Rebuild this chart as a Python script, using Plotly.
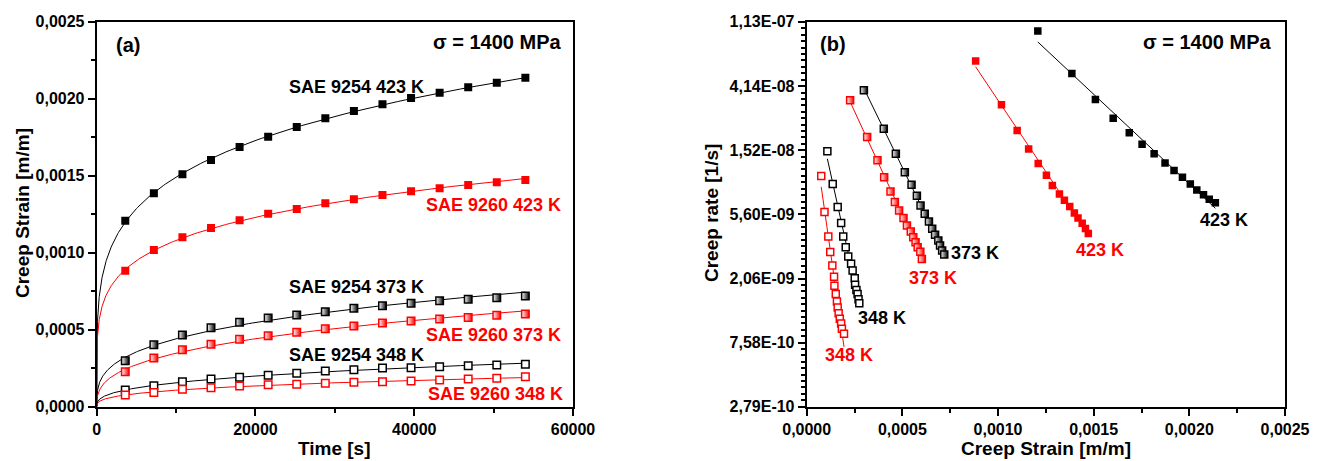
import numpy as np
import plotly.graph_objects as go

# ---------------- data ----------------
time_s = [3600, 7200, 10800, 14400, 18000, 21600, 25200, 28800,
          32400, 36000, 39600, 43200, 46800, 50400, 54000]

strain_9254_423 = [0.001208, 0.001386, 0.001509, 0.001602, 0.001686, 0.001753, 0.001816, 0.001873,
                   0.001920, 0.001964, 0.002005, 0.002039, 0.002074, 0.002104, 0.002136]
strain_9260_423 = [0.000883, 0.001018, 0.001100, 0.001160, 0.001210, 0.001253, 0.001284, 0.001321,
                   0.001347, 0.001375, 0.001399, 0.001418, 0.001440, 0.001457, 0.001472]
strain_9254_373 = [0.000299, 0.000403, 0.000466, 0.000513, 0.000548, 0.000576, 0.000595, 0.000617,
                   0.000639, 0.000656, 0.000671, 0.000688, 0.000697, 0.000708, 0.000719]
strain_9260_373 = [0.000227, 0.000316, 0.000370, 0.000405, 0.000438, 0.000461, 0.000483, 0.000506,
                   0.000524, 0.000544, 0.000557, 0.000569, 0.000580, 0.000594, 0.000602]
strain_9254_348 = [0.000108, 0.000136, 0.000162, 0.000180, 0.000191, 0.000204, 0.000217, 0.000232,
                   0.000240, 0.000251, 0.000253, 0.000260, 0.000266, 0.000271, 0.000275]
strain_9260_348 = [0.000076, 0.000093, 0.000113, 0.000123, 0.000134, 0.000143, 0.000145, 0.000152,
                   0.000158, 0.000162, 0.000167, 0.000173, 0.000180, 0.000184, 0.000195]

rate_9254_423 = [9.77e-8, 5.04e-8, 3.36e-8, 2.51e-8, 2.00e-8, 1.67e-8, 1.44e-8, 1.25e-8,
                 1.11e-8, 1.00e-8, 9.0e-9, 8.2e-9, 7.6e-9, 7.1e-9, 6.7e-9]
rate_9260_423 = [6.13e-8, 3.10e-8, 2.07e-8, 1.55e-8, 1.24e-8, 1.03e-8, 8.8e-9, 7.7e-9,
                 6.99e-9, 6.33e-9, 5.72e-9, 5.29e-9, 4.88e-9, 4.50e-9, 4.16e-9]
rate_9254_373 = [3.88e-8, 2.13e-8, 1.44e-8, 1.08e-8, 8.9e-9, 7.5e-9, 6.44e-9, 5.66e-9,
                 5.02e-9, 4.47e-9, 4.07e-9, 3.72e-9, 3.44e-9, 3.19e-9, 2.99e-9]
rate_9260_373 = [3.32e-8, 1.87e-8, 1.30e-8, 1.00e-8, 8.0e-9, 6.78e-9, 5.96e-9, 5.29e-9,
                 4.71e-9, 4.29e-9, 3.92e-9, 3.62e-9, 3.35e-9, 3.13e-9, 2.79e-9]
rate_9254_348 = [1.50e-8, 9.0e-9, 6.27e-9, 4.89e-9, 3.97e-9, 3.35e-9, 2.90e-9, 2.59e-9,
                 2.33e-9, 2.07e-9, 1.87e-9, 1.72e-9, 1.62e-9, 1.49e-9, 1.40e-9]
rate_9260_348 = [1.02e-8, 5.80e-9, 3.97e-9, 3.11e-9, 2.52e-9, 2.12e-9, 1.84e-9, 1.62e-9,
                 1.44e-9, 1.31e-9, 1.20e-9, 1.10e-9, 1.02e-9, 9.4e-10, 8.7e-10]

rate_tick_vals = [2.79e-10, 7.58e-10, 2.06e-9, 5.60e-9, 1.52e-8, 4.14e-8, 1.13e-7]
rate_tick_text = ["2,79E-10", "7,58E-10", "2,06E-09", "5,60E-09", "1,52E-08", "4,14E-08", "1,13E-07"]

# ---------------- layout helpers ----------------
W, H = 1322, 461
BLACK, RED = "#000000", "#ff0000"
FONT = "Liberation Sans, Arial, sans-serif"


def px(x):
    return x / W


def py(y):
    return 1 - y / H


series = [
    (strain_9254_423, rate_9254_423, BLACK, "filled"),
    (strain_9260_423, rate_9260_423, RED, "filled"),
    (strain_9254_373, rate_9254_373, BLACK, "half"),
    (strain_9260_373, rate_9260_373, RED, "half"),
    (strain_9254_348, rate_9254_348, BLACK, "open"),
    (strain_9260_348, rate_9260_348, RED, "open"),
]


def marker(color, kind, size):
    if kind == "filled":
        return dict(symbol="square", size=size, color=color,
                    line=dict(color=color, width=0))
    if kind == "open":
        return dict(symbol="square", size=size, color="white",
                    line=dict(color=color, width=1.5))
    return dict(symbol="square", size=size, color="white",
                gradient=dict(type="horizontal", color=color),
                line=dict(color=color, width=1.5))


fig = go.Figure()

t_arr = np.array(time_s, dtype=float)
t_fit = np.concatenate([[0.0], np.geomspace(1.0, t_arr[-1], 400)])

for strain, rate, color, kind in series:
    s = np.array(strain)
    r = np.array(rate)
    # panel (a): power-law fit curve
    n, loga = np.polyfit(np.log(t_arr), np.log(s), 1)
    fig.add_trace(go.Scatter(x=t_fit, y=np.exp(loga) * t_fit ** n, mode="lines",
                             line=dict(color=color, width=1), xaxis="x", yaxis="y",
                             showlegend=False, hoverinfo="skip"))
    fig.add_trace(go.Scatter(x=time_s, y=strain, mode="markers",
                             marker=marker(color, kind, 8 if kind == "filled" else 7.5),
                             xaxis="x", yaxis="y", showlegend=False))
    # panel (b): exponential fit line
    b, a = np.polyfit(s, np.log(r), 1)
    s_fit = np.linspace(s[0], s[-1], 50)
    fig.add_trace(go.Scatter(x=s_fit, y=np.exp(a + b * s_fit), mode="lines",
                             line=dict(color=color, width=1), xaxis="x2", yaxis="y2",
                             showlegend=False, hoverinfo="skip"))
    fig.add_trace(go.Scatter(x=strain, y=rate, mode="markers",
                             marker=marker(color, kind, 7.5 if kind == "filled" else 7),
                             xaxis="x2", yaxis="y2", showlegend=False))

tickfont = dict(family=FONT, size=16, color="black", weight="bold")
axis_common = dict(showline=True, linewidth=2, linecolor="black", mirror=True,
                   ticks="outside", ticklen=7, tickwidth=2, tickcolor="black",
                   showgrid=False, zeroline=False, tickfont=tickfont,
                   automargin=False)

ydom = [py(406.7), py(21.7)]

# minor ticks for log axis (uniform in ln space, 10 subdivisions per e-interval)
ln_lo, ln_hi = -22.0, -16.0
minor_vals = [float(np.exp(ln_lo + k * 0.1)) for k in range(61) if k % 10 != 0]

fig.update_layout(
    width=W, height=H,
    margin=dict(l=0, r=0, t=0, b=0),
    paper_bgcolor="white", plot_bgcolor="white",
    separators=",.",
    xaxis=dict(axis_common, domain=[px(96.7), px(573)], range=[0, 60000],
               tickvals=[0, 20000, 40000, 60000], tickformat="d",
               minor=dict(ticks="outside", ticklen=4, tickwidth=2, tickcolor="black",
                          dtick=10000, tick0=0),
               anchor="y"),
    yaxis=dict(axis_common, domain=ydom, range=[0, 0.0025], dtick=0.0005,
               tickformat=".4f",
               minor=dict(ticks="outside", ticklen=4, tickwidth=2, tickcolor="black",
                          dtick=0.00025, tick0=0),
               anchor="x"),
    xaxis2=dict(axis_common, domain=[px(806.7), px(1285)], range=[0, 0.0025],
                dtick=0.0005, tickformat=".4f",
                minor=dict(ticks="outside", ticklen=4, tickwidth=2, tickcolor="black",
                           dtick=0.00025, tick0=0),
                anchor="y2"),
    yaxis2=dict(axis_common, domain=ydom, type="log",
                range=[np.log10(rate_tick_vals[0]), np.log10(rate_tick_vals[-1])],
                tickmode="array", tickvals=rate_tick_vals, ticktext=rate_tick_text,
                minor=dict(ticks="outside", ticklen=4, tickwidth=1.5, tickcolor="black",
                           tickmode="array", tickvals=minor_vals),
                anchor="x2"),
)


def label(text, x, y, size=18, color=BLACK, angle=0):
    fig.add_annotation(text=text, x=px(x), y=py(y), xref="paper", yref="paper",
                       showarrow=False, xanchor="center", yanchor="middle",
                       textangle=angle,
                       font=dict(family=FONT, size=size, color=color, weight="bold"))


# axis titles
label("Time [s]", 335, 448, size=19)
label("Creep Strain [m/m]", 22, 213, size=19, angle=-90)
label("Creep Strain [m/m]", 1046, 448, size=19)
label("Creep rate [1/s]", 711, 213, size=19, angle=-90)

# panel (a) texts
label("(a)", 128, 45, size=20)
label("σ = 1400 MPa", 497, 42, size=20)
label("SAE 9254 423 K", 357, 87)
label("SAE 9260 423 K", 493, 205, color=RED)
label("SAE 9254 373 K", 357, 287)
label("SAE 9260 373 K", 493, 335, color=RED)
label("SAE 9254 348 K", 357, 355)
label("SAE 9260 348 K", 495, 394, color=RED)

# panel (b) texts
label("(b)", 833, 44, size=20)
label("σ = 1400 MPa", 1207, 42, size=20)
label("423 K", 1224, 220)
label("423 K", 1100, 250, color=RED)
label("373 K", 975, 253)
label("373 K", 933, 278, color=RED)
label("348 K", 882, 318)
label("348 K", 849, 355, color=RED)

fig.write_html("out.html",
               config={"displayModeBar": False},
               post_script="document.body.style.margin='0';document.body.style.overflow='hidden';")
